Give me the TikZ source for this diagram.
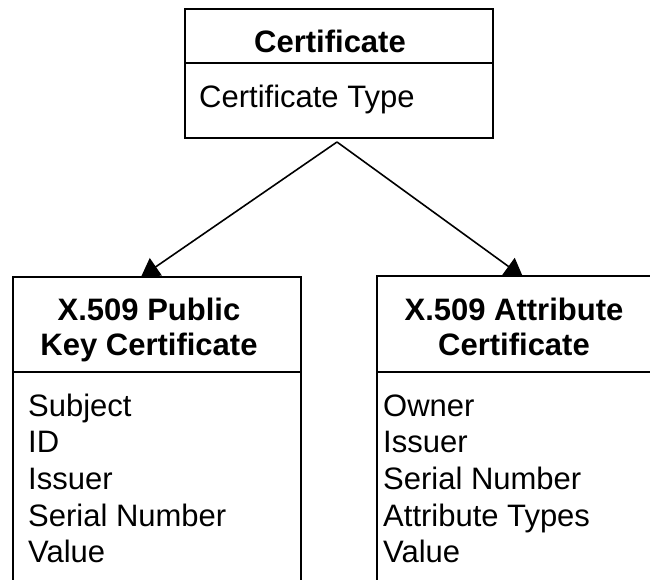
\documentclass[tikz,border=0pt]{standalone}
\usepackage{fontspec}
\setmainfont{Liberation Sans}
\usetikzlibrary{arrows.meta}
\begin{document}
\begin{tikzpicture}[x=1pt,y=-1pt,
    box/.style={draw,line width=2pt,inner sep=0pt,anchor=north west},
    rule/.style={line width=2pt},
    title/.style={font=\fontsize{31}{35}\selectfont\bfseries,align=center,inner sep=0pt,anchor=base},
    attr/.style={font=\fontsize{31}{36.7}\selectfont,inner sep=0pt,anchor=base west},
    link/.style={line width=1.6pt,-{Triangle[length=18pt,width=21pt]}}]
    \useasboundingbox (0,0) rectangle (650,580);
    \clip (0,0) rectangle (650,580);
    % base class
    \node[box,minimum width=308pt,minimum height=129pt] (cert) at (184,8) {};
    \draw[rule] (184,63) -- (492,63);
    \node[title] (cert-title) at (330,53) {Certificate};
    \node[attr] (cert-type) at (199,108) {Certificate Type};
    % subclasses
    \node[box,minimum width=288pt,minimum height=400pt] (pkc) at (12,276) {};
    \draw[rule] (12,372) -- (300,372);
    \node[title] (pkc-title) at (149,355) {X.509 Public\\Key Certificate};
    \foreach \t [count=\i] in {Subject,ID,Issuer,Serial Number,Value}
        \node[attr] (pkc-\i) at (28,{416+36.7*(\i-1)}) {\t};
    \node[box,minimum width=288pt,minimum height=400pt] (ac) at (376,275) {};
    \draw[rule] (376,372) -- (664,372);
    \node[title] (ac-title) at (514,355) {X.509 Attribute\\Certificate};
    \foreach \t [count=\i] in {Owner,Issuer,Serial Number,Attribute Types,Value}
        \node[attr] (ac-\i) at (383,{416+36.7*(\i-1)}) {\t};
    % inheritance
    \coordinate (fork) at (337,142);
    \coordinate (pkc-in) at (141,277);
    \coordinate (ac-in) at (523,277);
    \draw[link] (fork) -- (pkc-in);
    \draw[link] (fork) -- (ac-in);
\end{tikzpicture}
\end{document}
